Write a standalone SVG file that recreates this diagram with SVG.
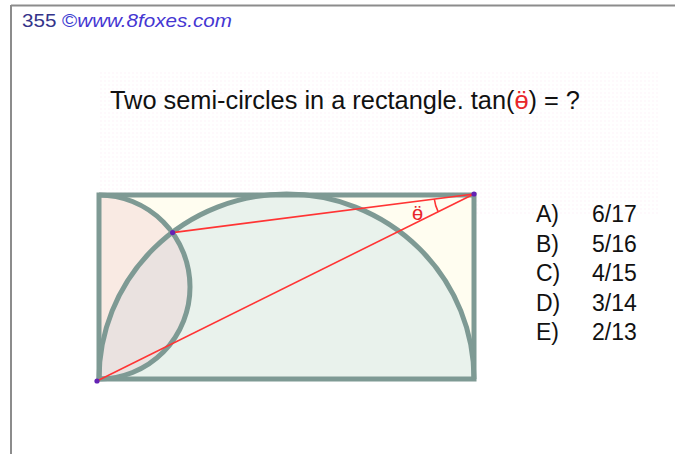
<svg xmlns="http://www.w3.org/2000/svg" width="675" height="454" viewBox="0 0 675 454">
<style>
  .frame { stroke: #8c8c8c; stroke-width: 2; fill: none; }
  .shape { stroke: #7e9a94; stroke-width: 5; fill: none; }
  .red { stroke: #ff3434; stroke-width: 1.6; fill: none; }
  .dot { fill: #6422b4; }
  .sans { font-family: "Liberation Sans", Arial, sans-serif; }
  .ans { font-family: "Liberation Sans", Arial, sans-serif; font-size: 23px; fill: #111; }
</style>
<defs>
  <pattern id="dots" x="0" y="0" width="4" height="4" patternUnits="userSpaceOnUse">
    <circle cx="1" cy="1" r="0.8" fill="#f3c4e2"/>
  </pattern>
</defs>
<rect width="675" height="454" fill="#ffffff"/>
<g id="frame">
  <line class="frame" x1="11" y1="5.5" x2="675" y2="5.5"/>
  <line class="frame" x1="11" y1="5" x2="11" y2="454"/>
</g>
<g id="watermark" opacity="0.25">
  <rect x="100" y="70" width="560" height="145" fill="url(#dots)"/>
</g>
<g id="header">
  <text x="22" y="27" class="sans" font-size="18" textLength="210" lengthAdjust="spacingAndGlyphs"><tspan fill="#34348a">355 </tspan><tspan fill="#3b3bd0">©</tspan><tspan fill="#4536d2" font-style="italic">www.8foxes.com</tspan></text>
</g>
<g id="title">
  <text x="110" y="109" class="sans" font-size="25" fill="#111" textLength="470" lengthAdjust="spacingAndGlyphs">Two semi-circles in a rectangle.  tan(<tspan fill="#e8262b">ӫ</tspan>) = ?</text>
</g>
<g id="figure">
  <rect x="99" y="195" width="375" height="184" fill="#fffdf0"/>
  <path id="big-fill" d="M99,379 A187.5,185 0 0 1 474,379 Z" fill="#e9f2ec"/>
  <path id="small-fill" d="M99,195 A91,92 0 0 1 99,379 Z" fill="#eec6cc" fill-opacity="0.35"/>
  <rect class="shape" x="99" y="195" width="375" height="184"/>
  <path id="big-arc" class="shape" d="M99,379 A187.5,185 0 0 1 474,379"/>
  <path id="small-arc" class="shape" d="M99,195 A91,92 0 0 1 99,379"/>
</g>
<g id="connectors">
  <line class="red" x1="474" y1="194" x2="172.6" y2="232.6"/>
  <line class="red" x1="474" y1="194" x2="97" y2="381"/>
  <path class="red" d="M434.3,199 A40,40 0 0 0 438.2,211.8"/>
</g>
<g id="points">
  <circle class="dot" cx="172.6" cy="232.6" r="2.6"/>
  <circle class="dot" cx="474" cy="194" r="2.6"/>
  <circle class="dot" cx="97" cy="381" r="2.6"/>
</g>
<g id="angle-label">
  <text x="412" y="220" class="sans" font-size="20" fill="#e8262b">ӫ</text>
</g>
<g id="answers">
  <text x="536" y="222" class="ans">A)</text><text x="592" y="222" class="ans">6/17</text>
  <text x="536" y="251.5" class="ans">B)</text><text x="592" y="251.5" class="ans">5/16</text>
  <text x="536" y="281" class="ans">C)</text><text x="592" y="281" class="ans">4/15</text>
  <text x="536" y="310.5" class="ans">D)</text><text x="592" y="310.5" class="ans">3/14</text>
  <text x="536" y="340" class="ans">E)</text><text x="592" y="340" class="ans">2/13</text>
</g>
</svg>
